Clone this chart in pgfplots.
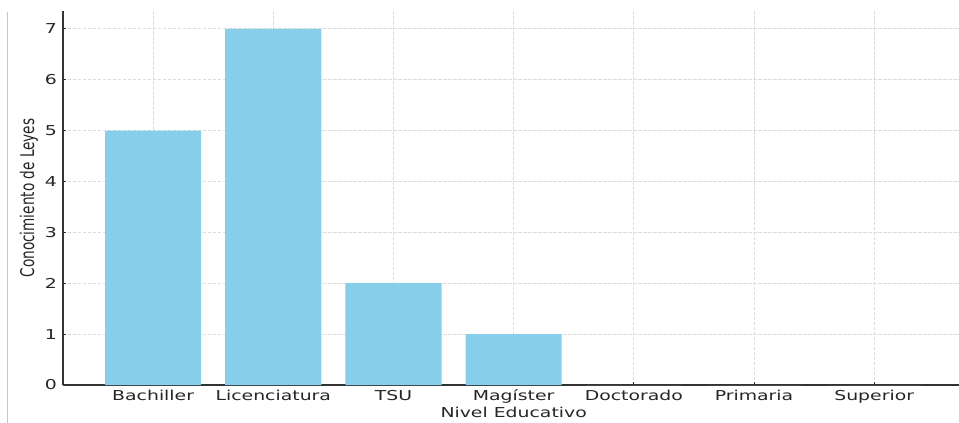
\documentclass[border=0pt]{standalone}
\usepackage{fontspec}
\setmainfont{DejaVu Sans}[FakeStretch=1.38]
\newfontfamily\ylabfont{DejaVu Sans}[FakeStretch=0.72]
\usepackage{pgfplots}
\pgfplotsset{compat=1.18}
\definecolor{barblue}{HTML}{87CEEB}
\definecolor{gridc}{HTML}{DDDDDD}
\definecolor{axc}{HTML}{333333}
\definecolor{txt}{HTML}{262626}
\begin{document}
\begin{tikzpicture}
\useasboundingbox (-63bp,-38bp) rectangle (896bp,385bp);
\draw[color=black!22, line width=1bp] (-55bp,-38bp) -- (-55bp,373bp);
\begin{axis}[
  at={(0,0)}, anchor=south west,
  scale only axis, width=901.3bp, height=374bp,
  xmin=-0.75, xmax=6.75, ymin=0, ymax=7.35,
  axis x line*=bottom, axis y line*=left,
  xtick={0,...,6},
  xticklabels={Bachiller,Licenciatura,TSU,Magíster,Doctorado,Primaria,Superior},
  ytick={0,...,7},
  tick align=inside, major tick length=3.5bp,
  tick style={axc, line width=1bp},
  axis line style={axc, line width=1.3bp},
  grid=major,
  major grid style={gridc, dash pattern=on 3.5bp off 1.5bp, line width=0.8bp},
  /pgf/number format/assume math mode=true,
  ticklabel style={font=\fontsize{13.7}{16}\selectfont, text=txt},
  xticklabel style={inner sep=0pt, anchor=north, text height=10.4bp, text depth=3bp, yshift=-4.5bp},
  yticklabel style={inner sep=0pt, anchor=east, xshift=-6bp},
  xlabel={Nivel Educativo},
  ylabel={Conocimiento de Leyes},
  xlabel style={font=\fontsize{13.7}{16}\selectfont, text=txt, at={(axis description cs:0.5,0)}, anchor=north, inner sep=0pt, yshift=-22bp},
  ylabel style={font=\fontsize{19}{22}\ylabfont, text=txt, at={(axis description cs:-0.0377,0.5)}, anchor=center, inner sep=0pt},
]
\addplot[ybar, bar width=0.8, fill=barblue, draw=none] coordinates {(0,5) (1,7) (2,2) (3,1) (4,0) (5,0) (6,0)};
\end{axis}
\end{tikzpicture}
\end{document}
